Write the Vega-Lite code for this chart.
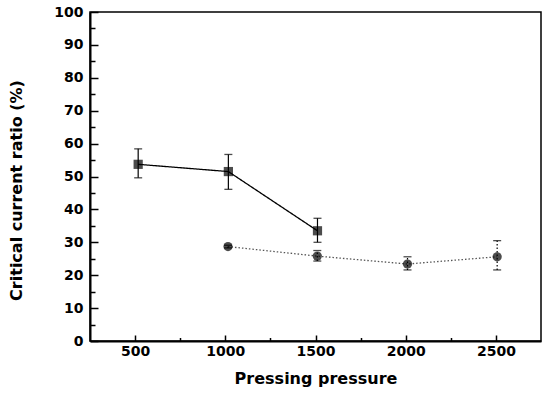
{
  "$schema": "https://vega.github.io/schema/vega-lite/v6.json",
  "width": 451,
  "height": 329,
  "autosize": {"type": "none"},
  "padding": {"left": 90, "top": 12, "right": 3, "bottom": 68},
  "background": "white",
  "data": {
    "values": [
      {"series": "MSM lap-joint", "pressure": 517, "ratio": 53.7, "lo": 49.6, "hi": 58.4},
      {"series": "MSM lap-joint", "pressure": 1017, "ratio": 51.5, "lo": 46.1, "hi": 56.7},
      {"series": "MSM lap-joint", "pressure": 1511, "ratio": 33.5, "lo": 30.0, "hi": 37.3},
      {"series": "MM lap-joint", "pressure": 1015, "ratio": 28.7, "lo": 28.3, "hi": 29.1},
      {"series": "MM lap-joint", "pressure": 1510, "ratio": 25.8, "lo": 24.3, "hi": 27.5},
      {"series": "MM lap-joint", "pressure": 2010, "ratio": 23.4, "lo": 21.6, "hi": 25.6},
      {"series": "MM lap-joint", "pressure": 2507, "ratio": 25.6, "lo": 21.6, "hi": 30.5}
    ]
  },
  "resolve": {"axis": {"x": "independent", "y": "independent"}},
  "encoding": {
    "x": {
      "field": "pressure", "type": "quantitative",
      "scale": {"domain": [250, 2750], "nice": false, "zero": false},
      "axis": null
    }
  },
  "layer": [
    {
      "mark": {"type": "rule", "color": "black", "strokeWidth": 1.2},
      "encoding": {
        "y": {"field": "lo", "type": "quantitative", "axis": null},
        "y2": {"field": "hi"},
        "strokeDash": {"field": "series", "type": "nominal", "scale": {"domain": ["MSM lap-joint", "MM lap-joint"], "range": [[1, 0], [1.5, 2]]}, "legend": null}
      }
    },
    {
      "mark": {"type": "tick", "orient": "horizontal", "color": "black", "size": 8, "thickness": 1.3},
      "encoding": {"y": {"field": "lo", "type": "quantitative", "axis": null}}
    },
    {
      "mark": {"type": "tick", "orient": "horizontal", "color": "black", "size": 8, "thickness": 1.3},
      "encoding": {"y": {"field": "hi", "type": "quantitative", "axis": null}}
    },
    {
      "mark": {"type": "line", "strokeWidth": 1.3},
      "encoding": {
        "x": {
          "field": "pressure", "type": "quantitative",
          "axis": {"orient": "bottom", "values": [750, 1250, 1750, 2250], "labels": false, "domain": false, "title": null, "tickSize": -3.5}
        },
        "y": {
          "field": "ratio", "type": "quantitative",
          "axis": {"orient": "left", "values": [5, 15, 25, 35, 45, 55, 65, 75, 85, 95], "labels": false, "domain": false, "title": null, "tickSize": -5}
        },
        "detail": {"field": "series"},
        "color": {"field": "series", "type": "nominal", "scale": {"domain": ["MSM lap-joint", "MM lap-joint"], "range": ["black", "#555555"]}, "legend": null},
        "strokeDash": {"field": "series", "type": "nominal", "legend": null}
      }
    },
    {
      "mark": {"type": "point", "filled": true, "color": "black", "size": 85},
      "encoding": {
        "x": {
          "field": "pressure", "type": "quantitative",
          "axis": {
            "orient": "bottom",
            "title": "Pressing pressure",
            "values": [500, 1000, 1500, 2000, 2500],
            "format": "d",
            "tickSize": -6,
            "labelPadding": 9,
            "titlePadding": 12
          }
        },
        "y": {
          "field": "ratio", "type": "quantitative",
          "scale": {"domain": [0, 100], "nice": false},
          "axis": {
            "orient": "left",
            "title": "Critical current ratio (%)",
            "values": [0, 10, 20, 30, 40, 50, 60, 70, 80, 90, 100],
            "tickSize": -8,
            "labelPadding": 15,
            "titleX": -66,
            "titleY": 178
          }
        },
        "shape": {
          "field": "series", "type": "nominal",
          "scale": {"domain": ["MSM lap-joint", "MM lap-joint"], "range": ["square", "circle"]},
          "legend": {
            "disable": false,
            "title": null, "orient": "none", "legendX": 42, "legendY": 11,
            "padding": 9, "symbolSize": 3136, "clipHeight": 20, "rowPadding": 2,
            "symbolOffset": 7, "labelOffset": 13,
            "labelFont": "DejaVu Sans", "labelFontSize": 17, "labelFontWeight": "bold", "labelColor": "black",
            "strokeColor": "black", "strokeWidth": 2, "fillColor": "white",
            "encoding": {
              "symbols": {
                "shape": {"condition": {"test": "datum.value === 'MM lap-joint'", "value": "M-1,0H1M0.15,0A0.15,0.15,0,1,1,-0.15,0A0.15,0.15,0,1,1,0.15,0Z"}, "value": "M-1,0H1M-0.15,-0.15H0.15V0.15H-0.15Z"},
                "fill": {"value": "black"},
                "stroke": {"value": "black"},
                "strokeWidth": {"condition": {"test": "datum.value === 'MM lap-joint'", "value": 1}, "value": 1.5},
                "strokeDash": {"condition": {"test": "datum.value === 'MM lap-joint'", "value": [1.5, 2]}, "value": [1, 0]}
              }
            }
          }
        }
      }
    }
  ],
  "config": {
    "legend": {"disable": false},
    "view": {"stroke": "black", "strokeWidth": 1.5},
    "axis": {
      "grid": false, "domainColor": "black", "domainWidth": 2,
      "tickColor": "black", "tickWidth": 1.5,
      "labelFont": "DejaVu Sans", "labelFontSize": 14, "labelFontWeight": "bold", "labelColor": "black",
      "titleFont": "DejaVu Sans", "titleFontSize": 16, "titleFontWeight": "bold", "titleColor": "black"
    }
  }
}
